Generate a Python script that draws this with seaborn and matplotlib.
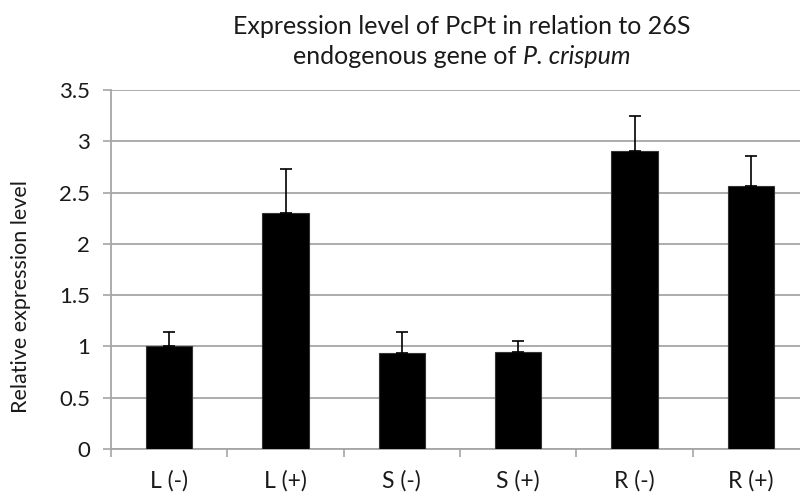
import numpy as np
import pandas as pd
import matplotlib
matplotlib.use('Agg')
import matplotlib.pyplot as plt
import seaborn as sns

# values
samples = ['L (-)', 'L (+)', 'S (-)', 'S (+)', 'R (-)', 'R (+)']
expression = [1.00, 2.30, 0.935, 0.945, 2.91, 2.56]
std_err = [0.14, 0.43, 0.21, 0.105, 0.34, 0.30]

sns.set_style('white')
plt.rcParams['font.family'] = ['Lato', 'DejaVu Sans']

df = pd.DataFrame({'sample': samples, 'level': expression})

fig = plt.figure(figsize=(8, 4.92), dpi=100)
ax = fig.add_axes([111 / 800, 1 - 449 / 492, 698 / 800, (449 - 90) / 492])

sns.barplot(data=df, x='sample', y='level', color='black', width=0.4,
            edgecolor='#333333', linewidth=0.8, saturation=1, ax=ax, zorder=3)

# upper error bars only
xpos = np.arange(len(samples))
ax.errorbar(xpos, expression, yerr=[np.zeros(len(std_err)), std_err],
            fmt='none', ecolor='black', elinewidth=1.2, capsize=4,
            capthick=1.2, zorder=4)

ax.set_xlim(-0.5, 5.5)
ax.set_ylim(0, 3.5)
ax.set_yticks(np.arange(0, 3.51, 0.5))
ax.set_yticklabels(['0', '0.5', '1', '1.5', '2', '2.5', '3', '3.5'])
ax.yaxis.grid(True, color='#a6a6a6', linewidth=1.3, zorder=0)
ax.set_axisbelow(True)

# category boundary ticks on the x axis
ax.set_xticks(np.arange(-0.5, 5.6, 1), minor=True)
ax.tick_params(axis='x', which='major', length=0, labelsize=16.5, pad=15,
               colors='#1a1a1a')
ax.tick_params(axis='x', which='minor', length=6, width=1.2,
               color='#a6a6a6', direction='out', bottom=True)
ax.tick_params(axis='y', length=6, width=1.2, color='#a6a6a6',
               direction='out', left=True, labelsize=16, pad=9,
               colors='#1a1a1a')
ax.set_xlabel('')
ax.set_ylabel('')

for side in ['top', 'right']:
    ax.spines[side].set_visible(False)
for side in ['left', 'bottom']:
    ax.spines[side].set_color('#a6a6a6')
    ax.spines[side].set_linewidth(1.3)

fig.text(21 / 800, 1 - 297 / 492, 'Relative expression level', rotation=90,
         ha='center', va='center', fontsize=15.5, color='#1a1a1a')
fig.text(462 / 800, 1 - 26 / 492, 'Expression level of PcPt in relation to 26S',
         ha='center', va='center', fontsize=18, color='#1a1a1a')

# second title line: plain part + italic species name, centred together
line_y = 1 - 56 / 492
t1 = fig.text(0, line_y, 'endogenous gene of ', ha='left', va='center',
              fontsize=18, color='#1a1a1a')
t2 = fig.text(0, line_y, 'P. crispum', ha='left', va='center',
              fontsize=18, style='italic', color='#1a1a1a')
renderer = fig.canvas.get_renderer()
w1 = t1.get_window_extent(renderer).width / fig.bbox.width
w2 = t2.get_window_extent(renderer).width / fig.bbox.width
x0 = 462 / 800 - (w1 + w2) / 2
t1.set_x(x0)
t2.set_x(x0 + w1)

fig.savefig('out.png', dpi=100)
